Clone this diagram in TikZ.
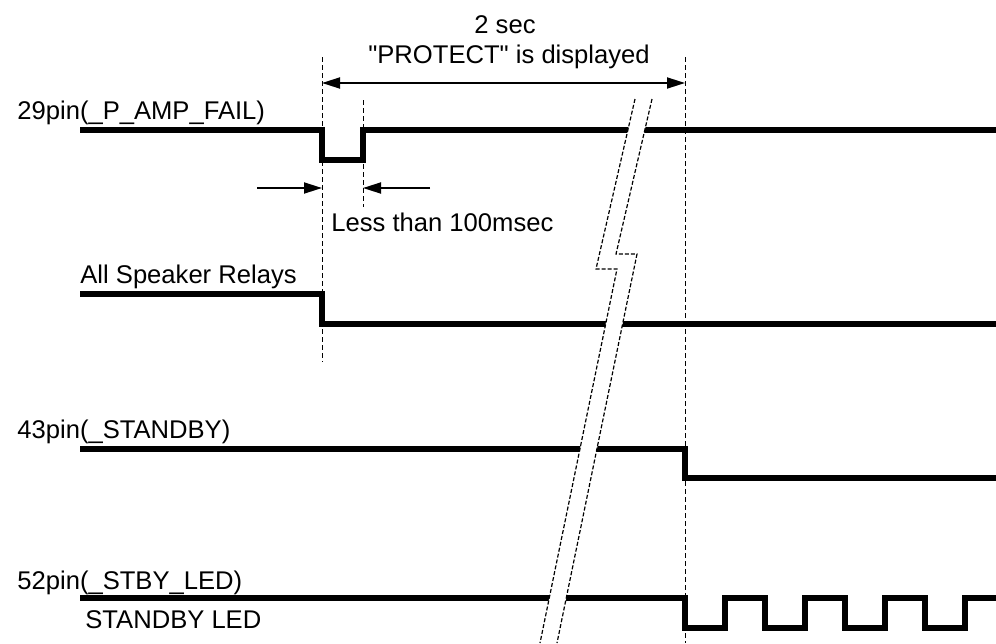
\documentclass[tikz,border=0pt]{standalone}
\usepackage{fontspec}
\setmainfont{Liberation Sans}
\usepackage{tikz}
\usetikzlibrary{arrows.meta}

\begin{document}
\begin{tikzpicture}[
  x=0.5pt, y=-0.5pt,
  signal/.style={line width=2.6pt},
  guide/.style={line width=0.5pt, dash pattern=on 2.5pt off 1.5pt},
  brk/.style={line width=0.6pt, dash pattern=on 2pt off 1pt},
  dim/.style={line width=0.9pt, -{Triangle[length=9pt, width=5.5pt]}},
  label/.style={anchor=base west, inner sep=0pt, font=\fontsize{12.8}{14}\selectfont}
]
\useasboundingbox (0,0) rectangle (996,643);

% Timing marks
\coordinate (t1) at (322,0);
\coordinate (t2) at (363,0);
\coordinate (t3) at (685,0);

% Signal names
\node[label] (fail) at (17,119) {29pin(\_P\_AMP\_FAIL)};
\node[label] (relay) at (80,283) {All Speaker Relays};
\node[label] (stby) at (17,438) {43pin(\_STANDBY)};
\node[label] (led) at (17,589) {52pin(\_STBY\_LED)};
\node[label] (ledname) at (85,628) {STANDBY LED};

% Waveforms
\draw[signal] (80,130) -- (322,130) -- (322,160) -- (363,160) -- (363,130) -- (996,130);
\draw[signal] (80,294) -- (322,294) -- (322,324) -- (996,324);
\draw[signal] (80,449) -- (685,449) -- (685,478) -- (996,478);
\draw[signal] (80,598) -- (685,598)
  foreach \k in {1,2,3} { -- ++(0,30) -- ++(40,0) -- ++(0,-30) -- ++(40,0) }
  -- ++(0,30) -- ++(40,0) -- ++(0,-30) -- (996,598);

% Time break
\fill[white] (635,99) -- (596,269) -- (617,269) -- (540,643) -- (557,643)
  -- (637,254) -- (616,254) -- (652,99) -- cycle;
\draw[brk] (635,99) -- (596,269) -- (617,269) -- (540,643);
\draw[brk] (652,99) -- (616,254) -- (637,254) -- (557,643);

% Guide lines
\draw[guide] (t1 |- 0,57) -- (t1 |- 0,362);
\draw[guide] (t2 |- 0,100) -- (t2 |- 0,207);
\draw[guide] (t3 |- 0,57) -- (t3 |- 0,643);

% 2 sec span
\coordinate (s1) at (t1 |- 0,83);
\coordinate (s3) at (t3 |- 0,83);
\draw[dim, {Triangle[length=9pt, width=5.5pt]}-{Triangle[length=9pt, width=5.5pt]}] (s1) -- (s3);
\node[label, anchor=base] (sec) at (505,33) {2 sec};
\node[label, anchor=base] (prot) at (509,63) {\textquotedbl PROTECT\textquotedbl{} is displayed};

% Pulse width
\coordinate (pl) at (257,188);
\coordinate (pr) at (430,188);
\draw[dim] (pl) -- (t1 |- pl);
\draw[dim] (pr) -- (t2 |- pr);
\node[label] (width) at (331,231) {Less than 100msec};
\end{tikzpicture}
\end{document}
